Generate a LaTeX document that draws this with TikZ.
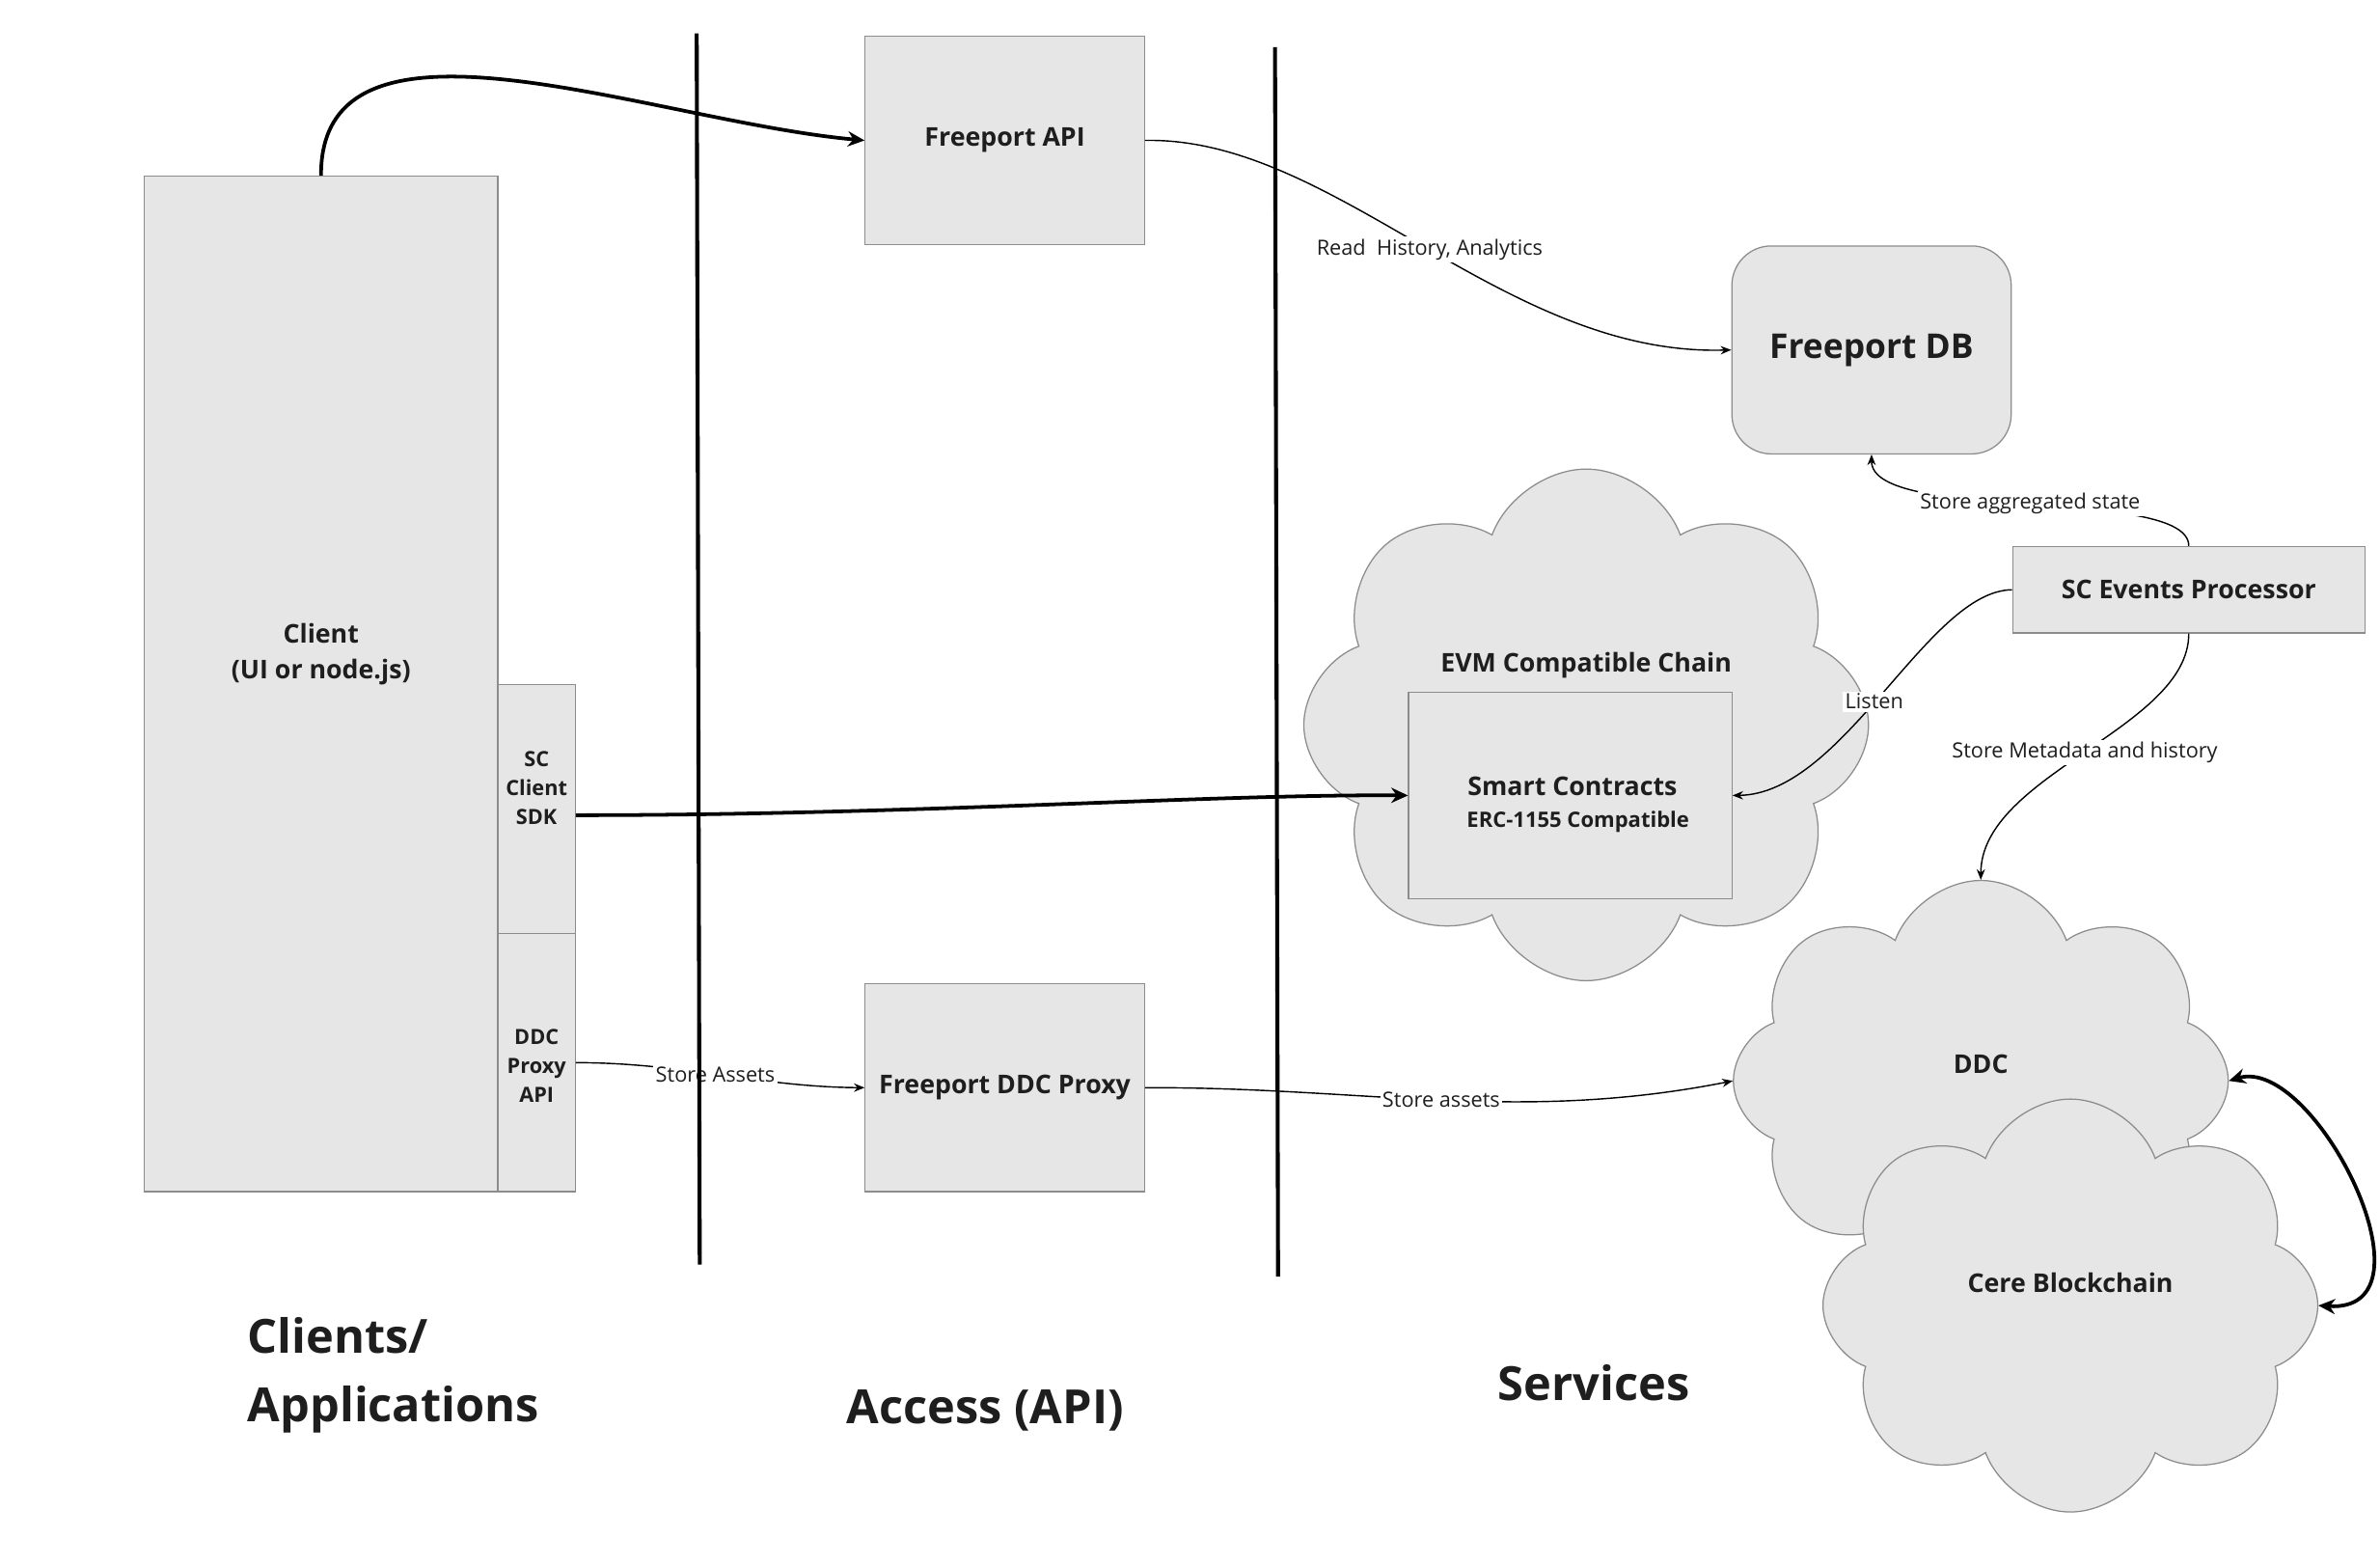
\documentclass[tikz,border=0pt]{standalone}
\usepackage{fontspec}
\setmainfont{Open Sans}
\usetikzlibrary{
	arrows.meta,
	shapes.symbols,
	calc
}
\usepackage{xcolor}
\definecolor{boxfill}{HTML}{E6E6E6}
\definecolor{boxline}{HTML}{8C8C8C}
\definecolor{inktext}{HTML}{1E1E1E}
\tikzset{
	block/.style={draw=boxline, fill=boxfill, line width=0.8pt, text=inktext,
		font=\fontsize{17}{23}\selectfont\bfseries, align=center, inner sep=0pt},
	smallblock/.style={block, font=\fontsize{13.8}{19}\selectfont\bfseries},
	boxtext/.style={text=inktext, font=\fontsize{17}{23}\selectfont\bfseries, align=center, inner sep=0pt},
	puffy/.style={cloud, cloud puffs=8, cloud puff arc=140, draw=boxline, fill=boxfill,
		line width=0.8pt, inner sep=0pt},
	region/.style={text=inktext, font=\fontsize{31}{45}\selectfont\bfseries, inner sep=0pt},
	lbl/.style={fill=white, text=inktext, font=\fontsize{13.8}{15}\selectfont, inner sep=1.5pt},
	thin link/.style={draw=black, line width=0.9pt, -{Stealth[length=7pt,width=5.5pt]}},
	thick link/.style={draw=black, line width=2.4pt, -{Stealth[length=11pt,width=10pt]}},
	divider/.style={draw=black, line width=2.6pt}
}

\begin{document}
\begin{tikzpicture}[x=1pt, y=-1pt]
	\useasboundingbox (0,0) rectangle (1568,1030.3);

	% clients
	\node[block, minimum width=233, minimum height=669] (client) at (211.5,450.5) {};
	\node[boxtext] (clienttxt) at (211.5,431) {Client\\(UI or node.js)};
	\node[smallblock, minimum width=51, minimum height=164] (sdk) at (353.5,533) {};
	\node[boxtext, font=\fontsize{13.8}{19}\selectfont\bfseries] (sdktxt) at (353.5,519) {SC\\Client\\SDK};
	\node[smallblock, minimum width=51, minimum height=170] (ddcapi) at (353.5,700) {};
	\node[boxtext, font=\fontsize{13.8}{19}\selectfont\bfseries] (ddcapitxt) at (353.5,702) {DDC\\Proxy\\API};

	% access
	\node[block, minimum width=184, minimum height=137] (api) at (662,92.5) {Freeport API};
	\node[block, minimum width=184, minimum height=137] (proxy) at (662,716.5) {Freeport DDC Proxy};

	% services
	\node[block, rounded corners=26, minimum width=184, minimum height=137,
		font=\fontsize{22.5}{25}\selectfont\bfseries] (db) at (1233,230.5) {Freeport DB};
	\node[block, minimum width=232, minimum height=57] (events) at (1442,388.5) {SC Events Processor};
	\node[puffy, minimum width=372, minimum height=337] (evm) at (1045,477.5) {};
	\node[boxtext] (evmtxt) at (1045,438) {EVM Compatible Chain};
	\node[block, minimum width=213, minimum height=136] (sc) at (1034.5,524) {};
	\node[boxtext] (sctxt) at (1036,530)
		{Smart Contracts\\[-2pt]{\fontsize{14}{17}\selectfont\ \ ERC-1155 Compatible}};
	\node[puffy, minimum width=326, minimum height=264] (ddc) at (1305,712) {};
	\node[boxtext] (ddctxt) at (1305,701) {DDC};
	\node[puffy, minimum width=326, minimum height=272] (cere) at (1364,860) {};
	\node[boxtext] (ceretxt) at (1364,845) {Cere Blockchain};

	% column titles
	\node[region, anchor=west, align=left] (clients) at (163,906) {Clients/\\Applications};
	\node[region] (access) at (649,929) {Access (API)};
	\node[region] (services) at (1050,911) {Services};

	% links
	\draw[thick link] (client.north) .. controls (211,-8) and (430,80) .. (api.west);
	\draw[thick link] ([yshift=-4pt]sdk.east) .. controls (600,537) and (800,523) .. (sc.west);
	\draw[thin link] (api.east) .. controls (880,90) and (990,235) .. (db.west)
		node[lbl, pos=0.51] {Read\ \ History, Analytics};
	\draw[thin link] (ddcapi.east) .. controls (450,700) and (500,716) .. (proxy.west)
		node[lbl, pos=0.48] {Store Assets};
	\draw[thin link] (proxy.east) .. controls (900,716) and (1000,740) .. (ddc.west)
		node[lbl, pos=0.5] {Store assets};
	\draw[thin link] (events.west) .. controls (1270,389) and (1215,523) .. (sc.east)
		node[lbl, pos=0.53] {Listen};
	\draw[thin link] (events.north) .. controls (1442,320) and (1233,345) .. (db.south)
		node[lbl, pos=0.5] {Store aggregated state};
	\draw[thin link] (events.south) .. controls (1442,480) and (1305,510) .. (ddc.north)
		node[lbl, pos=0.5] {Store Metadata and history};
	\draw[thick link, {Stealth[length=11pt,width=10pt]}-{Stealth[length=11pt,width=10pt]}]
		(ddc.east) .. controls (1525,695) and (1610,865) .. (cere.east);

	% column dividers
	\draw[divider] (459,22) -- (461,833);
	\draw[divider] (840,31) -- (842,841);
\end{tikzpicture}
\end{document}
